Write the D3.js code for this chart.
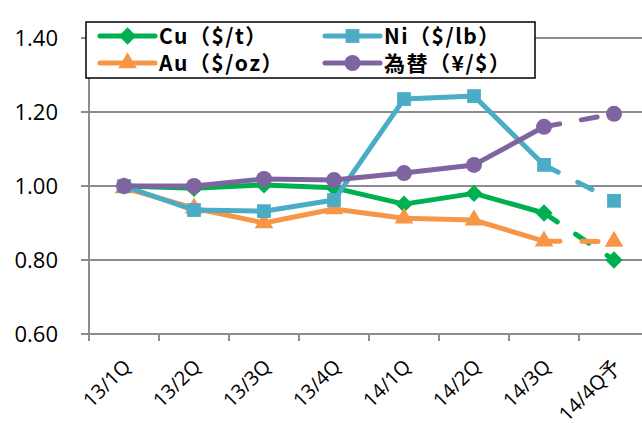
<!DOCTYPE html>
<html>
<head>
<meta charset="utf-8">
<script src="https://cdn.jsdelivr.net/npm/d3@7"></script>
<style>
  body { margin: 0; background: #fff; }
  svg { display: block; }
</style>
</head>
<body>
<svg id="chart"></svg>
<script>
'use strict';

var quarters = ['13/1Q', '13/2Q', '13/3Q', '13/4Q', '14/1Q', '14/2Q', '14/3Q', '14/4Q予'];
var cu = [1.00, 0.994, 1.003, 0.995, 0.951, 0.980, 0.927, 0.800];
var ni = [1.00, 0.935, 0.932, 0.962, 1.235, 1.243, 1.057, 0.960];
var au = [0.995, 0.940, 0.900, 0.938, 0.913, 0.908, 0.851, 0.850];
var fx = [1.00, 1.000, 1.019, 1.016, 1.035, 1.057, 1.160, 1.195];
var yTicks = [0.60, 0.80, 1.00, 1.20, 1.40];

// diamond drawn as a square turned 45 degrees
var squareDiamond = {
  draw: function(context, size) {
    var r = Math.sqrt(size / 2);
    context.moveTo(0, -r);
    context.lineTo(r, 0);
    context.lineTo(0, r);
    context.lineTo(-r, 0);
    context.closePath();
  }
};

var series = [
  { name: 'Cu（$/t）', values: cu, color: '#00B050', symbol: squareDiamond, size: 150 },
  { name: 'Au（$/oz）', values: au, color: '#F79646', symbol: d3.symbolTriangle, size: 150 },
  { name: 'Ni（$/lb）', values: ni, color: '#4BACC6', symbol: d3.symbolSquare, size: 190 },
  { name: '為替（¥/$）', values: fx, color: '#8064A2', symbol: d3.symbolCircle, size: 200 }
];

var width = 642;
var height = 423;
var plotLeft = 89, plotRight = 649, plotTop = 38, plotBottom = 334;

var svg = d3.select('#chart')
  .attr('width', width)
  .attr('height', height);

var x = d3.scaleBand().domain(quarters).range([plotLeft, plotRight]);
var y = d3.scaleLinear().domain([0.6, 1.4]).range([plotBottom, plotTop]);

// gridlines
svg.append('g')
  .selectAll('line')
  .data(yTicks)
  .enter().append('line')
  .attr('x1', plotLeft - 8)
  .attr('x2', width)
  .attr('y1', function(d) { return y(d); })
  .attr('y2', function(d) { return y(d); })
  .attr('stroke', '#8c8c8c')
  .attr('stroke-width', 2);

// y axis line
svg.append('line')
  .attr('x1', plotLeft).attr('x2', plotLeft)
  .attr('y1', plotTop).attr('y2', plotBottom)
  .attr('stroke', '#8c8c8c')
  .attr('stroke-width', 2);

// x tick marks at category boundaries
svg.append('g')
  .selectAll('line')
  .data(quarters)
  .enter().append('line')
  .attr('x1', function(d) { return x(d); })
  .attr('x2', function(d) { return x(d); })
  .attr('y1', plotBottom)
  .attr('y2', plotBottom + 7)
  .attr('stroke', '#8c8c8c')
  .attr('stroke-width', 2);

// y labels
svg.append('g')
  .selectAll('text')
  .data(yTicks)
  .enter().append('text')
  .attr('x', 58)
  .attr('y', function(d) { return y(d); })
  .attr('dy', '0.36em')
  .attr('text-anchor', 'end')
  .attr('font-family', 'Open Sans, Liberation Sans, sans-serif')
  .attr('font-size', 22)
  .attr('fill', '#000')
  .text(function(d) { return d.toFixed(2); });

// x labels, rotated
svg.append('g')
  .selectAll('text')
  .data(quarters)
  .enter().append('text')
  .attr('transform', function(d) {
    return 'translate(' + (x(d) + x.bandwidth() / 2 + 3) + ',' + (plotBottom + 29) + ') rotate(-45)';
  })
  .attr('text-anchor', 'end')
  .attr('dy', '0.35em')
  .attr('font-family', 'Open Sans, Liberation Sans, sans-serif')
  .attr('font-size', 20)
  .attr('fill', '#000')
  .text(function(d) { return d; });

var cx = function(i) { return x(quarters[i]) + x.bandwidth() / 2; };

// lines: solid up to 14/3Q, dashed for the forecast segment
var line = d3.line()
  .x(function(d) { return cx(d.i); })
  .y(function(d) { return y(d.v); });

series.forEach(function(s) {
  var pts = s.values.map(function(v, i) { return { v: v, i: i }; });
  var g = svg.append('g');
  g.append('path')
    .datum(pts.slice(0, pts.length - 1))
    .attr('d', line)
    .attr('fill', 'none')
    .attr('stroke', s.color)
    .attr('stroke-width', 5)
    .attr('stroke-linejoin', 'round');
  g.append('path')
    .datum(pts.slice(pts.length - 2))
    .attr('d', line)
    .attr('fill', 'none')
    .attr('stroke', s.color)
    .attr('stroke-width', 5)
    .attr('stroke-linecap', 'round')
    .attr('stroke-dasharray', '16,22');
  g.selectAll('path.marker')
    .data(pts)
    .enter().append('path')
    .attr('class', 'marker')
    .attr('transform', function(d) { return 'translate(' + cx(d.i) + ',' + y(d.v) + ')'; })
    .attr('d', d3.symbol().type(s.symbol).size(s.size))
    .attr('fill', s.color);
});

// legend
var legend = svg.append('g');
legend.append('rect')
  .attr('x', 86).attr('y', 22)
  .attr('width', 449).attr('height', 56)
  .attr('fill', '#fff')
  .attr('stroke', '#000')
  .attr('stroke-width', 1.5);

var legendPos = [
  { x: 100, y: 36 }, { x: 100, y: 63 },
  { x: 325, y: 36 }, { x: 325, y: 63 }
];

series.forEach(function(s, i) {
  var p = legendPos[i];
  var item = legend.append('g').attr('transform', 'translate(' + p.x + ',' + p.y + ')');
  item.append('line')
    .attr('x1', 0).attr('x2', 55)
    .attr('stroke', s.color)
    .attr('stroke-width', 5)
    .attr('stroke-linecap', 'round');
  item.append('path')
    .attr('transform', 'translate(27.5,0)')
    .attr('d', d3.symbol().type(s.symbol).size(s.size))
    .attr('fill', s.color);
  item.append('text')
    .attr('x', 59)
    .attr('dy', '0.36em')
    .attr('font-family', 'Noto Sans CJK JP, sans-serif')
    .attr('font-weight', 'bold')
    .attr('font-size', 21)
    .attr('letter-spacing', 1.5)
    .attr('fill', '#000')
    .text(s.name);
});
</script>
</body>
</html>
